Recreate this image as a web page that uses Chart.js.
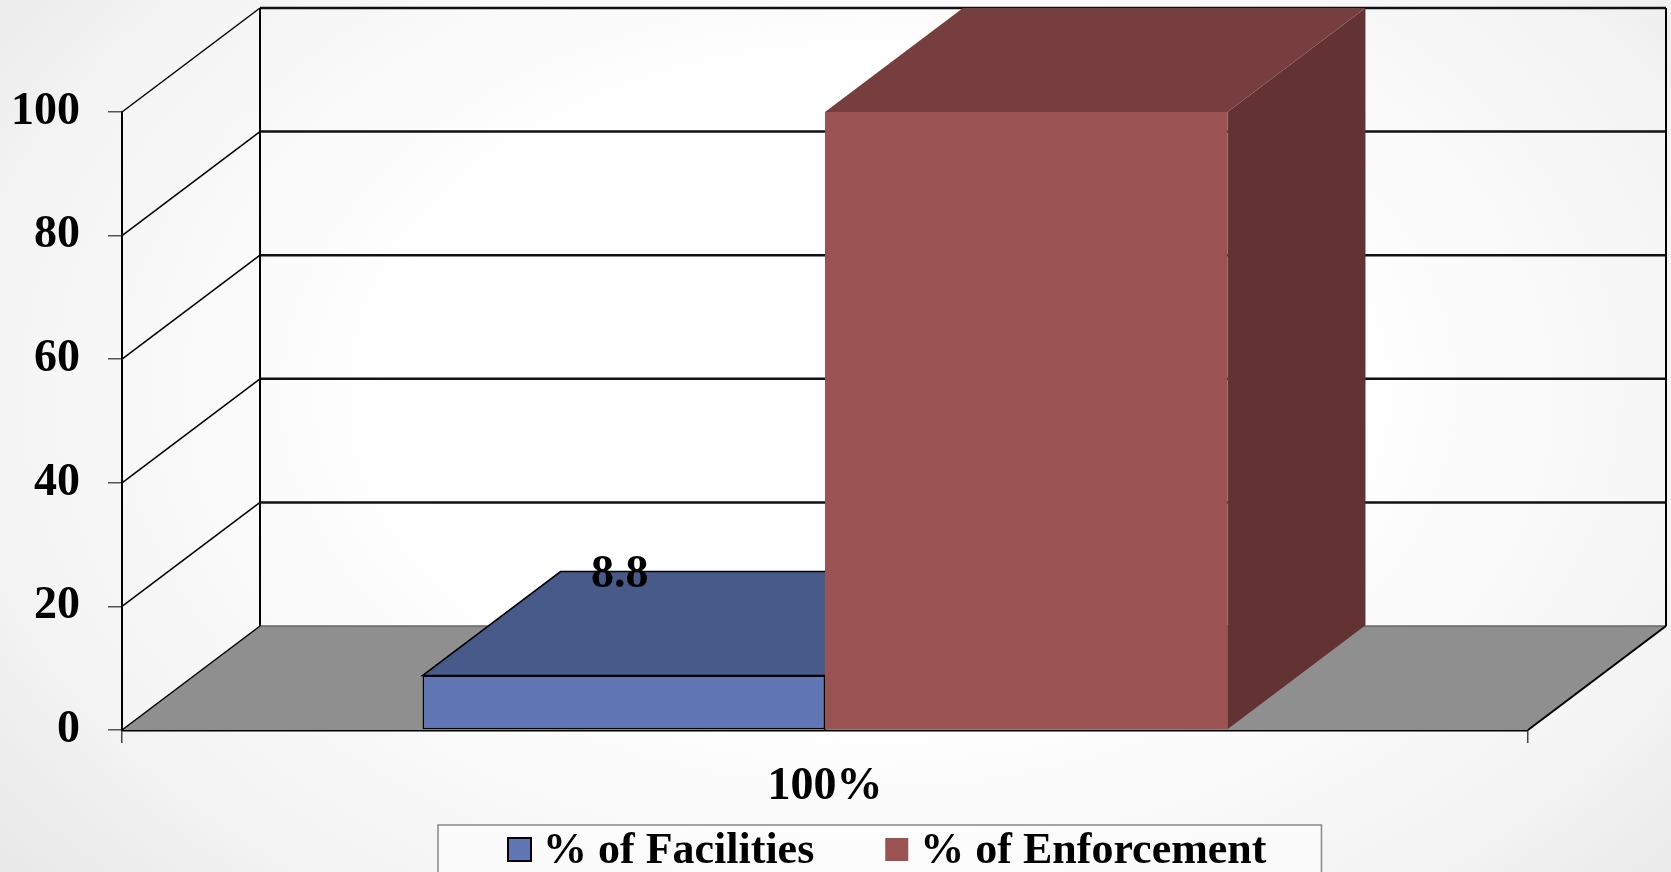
<!DOCTYPE html>
<html>
<head>
<meta charset="utf-8">
<script src="https://cdn.jsdelivr.net/npm/chart.js@4.4.1/dist/chart.umd.min.js"></script>
<style>
  html, body { margin: 0; padding: 0; }
  body {
    width: 1671px; height: 872px; overflow: hidden;
    background: radial-gradient(ellipse 70% 90% at 52% 45%, #ffffff 40%, #f4f4f4 75%, #e6e6e6 100%);
  }
  canvas { display: block; }
</style>
</head>
<body>
<canvas id="chart" width="1671" height="872"></canvas>
<script>
// data
const categories = ['100%'];
const facilities = [8.8];
const enforcement = [100];
const seriesNames = ['% of Facilities', '% of Enforcement'];
const yTicks = [0, 20, 40, 60, 80, 100];
const showValues = [true, false];

// look
const frontColors = ['#6176b4', '#9a5252'];
const topColors = ['#475a8a', '#773e3f'];
const sideColors = ['#3a4a72', '#633233'];
const edgeColors = ['#000000', null];
const DEPTH_X = 138;
const DEPTH_Y = 104;
const FONT = '"Liberation Serif", "Times New Roman", serif';

function poly(ctx, pts, fill, stroke) {
    ctx.beginPath();
    ctx.moveTo(pts[0][0], pts[0][1]);
    for (let i = 1; i < pts.length; i++) ctx.lineTo(pts[i][0], pts[i][1]);
    ctx.closePath();
    if (fill) { ctx.fillStyle = fill; ctx.fill(); }
    if (stroke) { ctx.strokeStyle = stroke; ctx.lineWidth = 1.5; ctx.stroke(); }
}

function line(ctx, x1, y1, x2, y2, color, w) {
    ctx.beginPath();
    ctx.moveTo(x1, y1);
    ctx.lineTo(x2, y2);
    ctx.strokeStyle = color;
    ctx.lineWidth = w;
    ctx.stroke();
}

// walls, floor and the top/side faces of the boxes
const box3d = {
    id: 'box3d',
    beforeDatasetsDraw(chart) {
        const {ctx, chartArea: a} = chart;
        const y = chart.scales.y;
        const dx = DEPTH_X, dy = DEPTH_Y;
        ctx.save();

        // floor
        poly(ctx, [[a.left, a.bottom], [a.right, a.bottom], [a.right + dx, a.bottom - dy], [a.left + dx, a.bottom - dy]], '#8f8f8f');
        line(ctx, a.left + dx, a.bottom - dy, a.right + dx, a.bottom - dy, '#666', 1.5);

        // side wall diagonals and back wall grid
        yTicks.forEach(v => {
            const py = y.getPixelForValue(v);
            line(ctx, a.left, py, a.left + dx, py - dy, '#000', 1.5);
            if (v > 0) line(ctx, a.left + dx, py - dy, a.right + dx, py - dy, '#111', 2.5);
        });
        line(ctx, a.left + dx, a.top - dy, a.left + dx, a.bottom - dy, '#000', 2);
        line(ctx, a.right + dx, a.top - dy, a.right + dx, a.bottom - dy, '#000', 2);
        line(ctx, a.right, a.bottom, a.right + dx, a.bottom - dy, '#000', 2);

        chart.data.datasets.forEach((ds, i) => {
            const meta = chart.getDatasetMeta(i);
            meta.data.forEach(bar => {
                const p = bar.getProps(['x', 'y', 'base', 'width'], true);
                const l = p.x - p.width / 2, r = p.x + p.width / 2;
                poly(ctx, [[r, p.y], [r + dx, p.y - dy], [r + dx, p.base - dy], [r, p.base]], sideColors[i], edgeColors[i]);
                poly(ctx, [[l, p.y], [r, p.y], [r + dx, p.y - dy], [l + dx, p.y - dy]], topColors[i], edgeColors[i]);
            });
        });
        ctx.restore();
    },
    afterDatasetsDraw(chart) {
        const ctx = chart.ctx;
        ctx.save();
        ctx.font = 'bold 46px ' + FONT;
        ctx.fillStyle = '#000';
        ctx.textAlign = 'center';
        ctx.textBaseline = 'middle';
        chart.data.datasets.forEach((ds, i) => {
            if (!showValues[i]) return;
            chart.getDatasetMeta(i).data.forEach((bar, j) => {
                const p = bar.getProps(['x', 'y'], true);
                ctx.fillText(String(ds.data[j]), p.x - 4, p.y - DEPTH_Y + 3);
            });
        });
        ctx.restore();
    },
    afterDraw(chart) {
        // legend in a framed box under the axis
        const ctx = chart.ctx;
        const left = 438, top = 825, height = 60;
        const sw = 23, textGap = 12, itemGap = 71, padL = 70, padR = 55;
        ctx.save();
        ctx.font = 'bold 44px ' + FONT;
        const widths = chart.data.datasets.map(ds => ctx.measureText(ds.label).width);
        let total = padL + padR + itemGap * (widths.length - 1);
        widths.forEach(w => { total += sw + textGap + w; });
        ctx.fillStyle = 'rgba(255,255,255,0.55)';
        ctx.fillRect(left, top, total, height);
        ctx.strokeStyle = '#888';
        ctx.lineWidth = 1.5;
        ctx.strokeRect(left, top, total, height);
        let x = left + padL;
        chart.data.datasets.forEach((ds, i) => {
            ctx.fillStyle = frontColors[i];
            ctx.fillRect(x, 838, sw, sw);
            if (edgeColors[i]) {
                ctx.strokeStyle = edgeColors[i];
                ctx.lineWidth = 2;
                ctx.strokeRect(x, 838, sw, sw);
            }
            x += sw + textGap;
            ctx.fillStyle = '#000';
            ctx.textBaseline = 'alphabetic';
            ctx.fillText(ds.label, x, 863);
            x += widths[i] + itemGap;
        });
        ctx.restore();
    }
};

new Chart(document.getElementById('chart'), {
    type: 'bar',
    data: {
        labels: categories,
        datasets: [
            {
                label: seriesNames[0],
                data: facilities,
                backgroundColor: frontColors[0],
                borderColor: '#000',
                borderWidth: 1.5,
                borderSkipped: false
            }, {
                label: seriesNames[1],
                data: enforcement,
                backgroundColor: frontColors[1],
                borderWidth: 0
            }
        ]
    },
    options: {
        responsive: false,
        animation: false,
        categoryPercentage: 0.5725,
        barPercentage: 1,
        layout: {
            padding: {top: 112, right: 143, left: 0, bottom: 0}
        },
        plugins: {
            legend: {display: false},
            tooltip: {enabled: false}
        },
        scales: {
            x: {
                afterFit(s) { s.height = 142; },
                grid: {drawOnChartArea: false, tickLength: 13, color: '#444', lineWidth: 1.5},
                border: {color: '#000', width: 2.5},
                ticks: {
                    color: '#000',
                    padding: 17,
                    font: {family: FONT, size: 46, weight: 'bold'}
                }
            },
            y: {
                min: 0,
                max: 100,
                afterFit(s) { s.width = 122; },
                grid: {drawOnChartArea: false, tickLength: 14, color: '#555', lineWidth: 1.5},
                border: {color: '#000', width: 2},
                ticks: {
                    stepSize: 20,
                    color: '#000',
                    padding: 28,
                    font: {family: FONT, size: 46, weight: 'bold'}
                }
            }
        }
    },
    plugins: [box3d]
});
</script>
</body>
</html>
